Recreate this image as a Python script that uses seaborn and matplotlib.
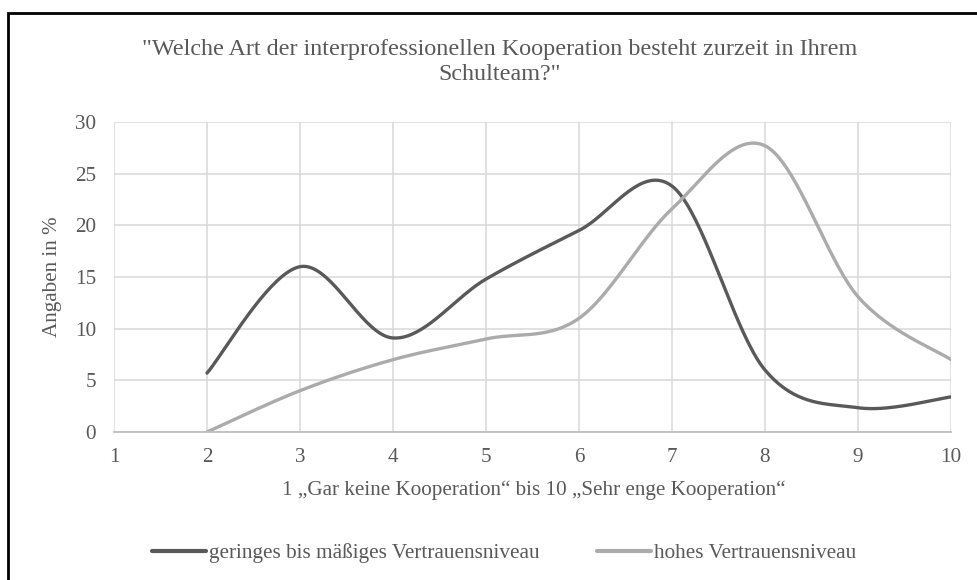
import numpy as np
import pandas as pd
import matplotlib
matplotlib.use('Agg')
import matplotlib.pyplot as plt
from matplotlib.patches import Rectangle
import seaborn as sns

# answer categories 1..10 on the scale; no answers recorded for 1
categories = [2, 3, 4, 5, 6, 7, 8, 9, 10]
low_trust = [5.7, 16.0, 9.1, 14.8, 19.5, 23.8, 6.0, 2.35, 3.4]
high_trust = [0.0, 4.0, 7.0, 9.0, 11.0, 21.6, 27.7, 13.1, 7.0]
series_names = ['geringes bis mäßiges Vertrauensniveau', 'hohes Vertrauensniveau']
series_colors = ['#595959', '#ababab']
x_ticks = list(range(1, 11))
y_ticks = [0, 5, 10, 15, 20, 25, 30]

title = '"Welche Art der interprofessionellen Kooperation besteht zurzeit in Ihrem\nSchulteam?"'
x_label = '1 „Gar keine Kooperation“ bis 10 „Sehr enge Kooperation“'
y_label = 'Angaben in %'


def smooth(xs, ys, steps=40):
    # Excel style smoothed line: Catmull-Rom through the points as cubic Bezier
    p = np.column_stack([xs, ys]).astype(float)
    ext = np.vstack([p[0], p, p[-1]])
    t = np.linspace(0, 1, steps)[:, None]
    out = []
    for i in range(len(p) - 1):
        p0, p1, p2, p3 = ext[i], ext[i + 1], ext[i + 2], ext[i + 3]
        c1 = p1 + (p2 - p0) / 6
        c2 = p2 - (p3 - p1) / 6
        seg = ((1 - t) ** 3) * p1 + 3 * ((1 - t) ** 2) * t * c1 + 3 * (1 - t) * t ** 2 * c2 + t ** 3 * p2
        out.append(seg if i == 0 else seg[1:])
    return np.vstack(out)


frames = []
for name, vals in zip(series_names, [low_trust, high_trust]):
    curve = smooth(categories, vals)
    frames.append(pd.DataFrame({'x': curve[:, 0], 'y': curve[:, 1], 'series': name}))
df = pd.concat(frames, ignore_index=True)

sns.set_theme(style='white')
plt.rcParams['font.family'] = ['Liberation Serif', 'DejaVu Serif']
text_color = '#595959'
grid_color = '#d9d9d9'
small = 15.2

fig = plt.figure(figsize=(9.78, 5.80), dpi=100)
ax = fig.add_axes([114 / 978, 1 - 432 / 580, 837 / 978, 310 / 580])

sns.lineplot(data=df, x='x', y='y', hue='series', hue_order=series_names,
             palette=series_colors, sort=False, estimator=None, linewidth=2.4,
             legend=False, ax=ax)

ax.set_xlim(1, 10)
ax.set_ylim(0, 30)
ax.set_xticks(x_ticks)
ax.set_yticks(y_ticks)
ax.grid(True, color=grid_color, linewidth=1.1)
ax.set_axisbelow(True)
for side in ['top', 'right', 'left']:
    ax.spines[side].set_visible(False)
ax.spines['bottom'].set_color('#bfbfbf')
ax.spines['bottom'].set_linewidth(1.3)
ax.tick_params(axis='both', colors='#bfbfbf', labelcolor=text_color, labelsize=small,
               length=5, width=1.1, direction='out')
ax.tick_params(axis='y', pad=8.0, length=5)
ax.tick_params(axis='x', pad=8.0, length=3.6)

ax.set_xlabel(x_label, fontsize=small, color=text_color)
ax.set_ylabel(y_label, fontsize=small, color=text_color)
ax.xaxis.label.set_va('center')
ax.yaxis.label.set_va('center')
ax.xaxis.set_label_coords(0.502, -0.187)
ax.yaxis.set_label_coords(-0.073, 0.5)

fig.text(500 / 978, 1 - 62 / 580, title, ha='center', va='center', multialignment='center',
         fontsize=17.4, color=text_color, linespacing=1.25)

handles = [plt.Line2D([], [], color=c, linewidth=3) for c in series_colors]
fig.legend(handles, series_names, loc='center', bbox_to_anchor=(504 / 978, 1 - 553 / 580),
           ncol=2, frameon=False, fontsize=15.3, labelcolor=text_color,
           handlelength=2.54, handletextpad=0.14, columnspacing=2.7)

fig.patches.append(Rectangle((8 / 978, -0.05), 1.1, 1.05 - 13 / 580, transform=fig.transFigure,
                             fill=False, edgecolor='black', linewidth=2))

fig.savefig('out.png', dpi=100)
